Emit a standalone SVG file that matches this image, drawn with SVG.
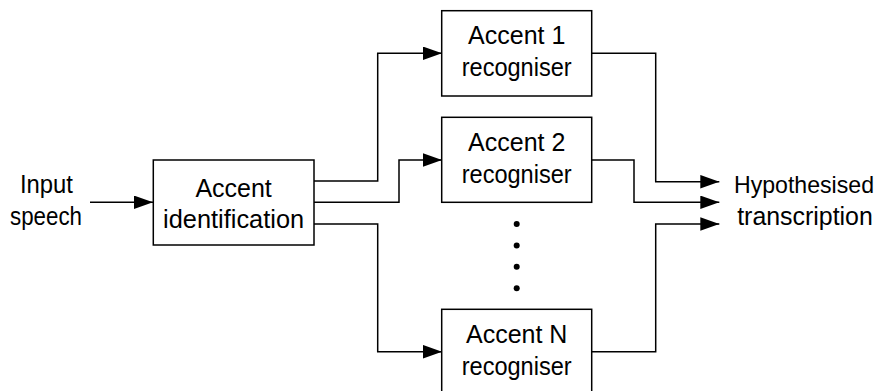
<svg xmlns="http://www.w3.org/2000/svg" width="880" height="391" viewBox="0 0 880 391">
<style>
.box{fill:#fff;stroke:#000;stroke-width:1.5}
.lbl{font-family:"Liberation Sans",Arial,sans-serif;font-size:25px;fill:#000;text-anchor:middle}
.con{fill:none;stroke:#000;stroke-width:1.5;marker-end:url(#arr)}
</style>
<defs>
<marker id="arr" markerUnits="userSpaceOnUse" markerWidth="20" markerHeight="14" refX="19" refY="6.75" orient="auto">
<path d="M0,0 L19,6.75 L0,13.5 z" fill="#000"/>
</marker>
</defs>
<rect width="880" height="391" fill="#fff"/>
<g id="connectors">
<path class="con" d="M90,202.3 H153"/>
<path class="con" d="M314,181 H377.7 V53.3 H442"/>
<path class="con" d="M314,202.3 H399 V160 H442"/>
<path class="con" d="M314,224 H377.7 V351.7 H442"/>
<path class="con" d="M592,53.3 H655.7 V181.7 H719.3"/>
<path class="con" d="M592,160 H634 V202.3 H719.3"/>
<path class="con" d="M592,351.7 H655.7 V224 H719.3"/>
</g>
<g id="input">
<text class="lbl" x="46.5" y="193.3" textLength="53" lengthAdjust="spacingAndGlyphs">Input</text>
<text class="lbl" x="46" y="225" textLength="72" lengthAdjust="spacingAndGlyphs">speech</text>
</g>
<g id="accent-identification">
<rect class="box" x="153.3" y="160" width="160.7" height="85"/>
<text class="lbl" x="233.6" y="196.7">Accent</text>
<text class="lbl" x="233.6" y="228.3" textLength="141" lengthAdjust="spacingAndGlyphs">identification</text>
</g>
<g id="accent1">
<rect class="box" x="441.7" y="10.7" width="150" height="85.3"/>
<text class="lbl" x="516.7" y="44.3">Accent 1</text>
<text class="lbl" x="516.7" y="76" textLength="110" lengthAdjust="spacingAndGlyphs">recogniser</text>
</g>
<g id="accent2">
<rect class="box" x="441.7" y="117.3" width="150" height="85"/>
<text class="lbl" x="516.7" y="151">Accent 2</text>
<text class="lbl" x="516.7" y="182.7" textLength="110" lengthAdjust="spacingAndGlyphs">recogniser</text>
</g>
<g id="dots">
<circle cx="516.7" cy="224" r="3"/>
<circle cx="516.7" cy="245.4" r="3"/>
<circle cx="516.7" cy="266.8" r="3"/>
<circle cx="516.7" cy="288.3" r="3"/>
</g>
<g id="accentN">
<rect class="box" x="441.7" y="309.3" width="150" height="85"/>
<text class="lbl" x="516.7" y="343.3">Accent N</text>
<text class="lbl" x="516.7" y="374.7" textLength="110" lengthAdjust="spacingAndGlyphs">recogniser</text>
</g>
<g id="output">
<text class="lbl" x="804" y="193.3" style="font-size:24px" textLength="140" lengthAdjust="spacingAndGlyphs">Hypothesised</text>
<text class="lbl" x="805" y="225" textLength="135.6" lengthAdjust="spacingAndGlyphs">transcription</text>
</g>
</svg>
